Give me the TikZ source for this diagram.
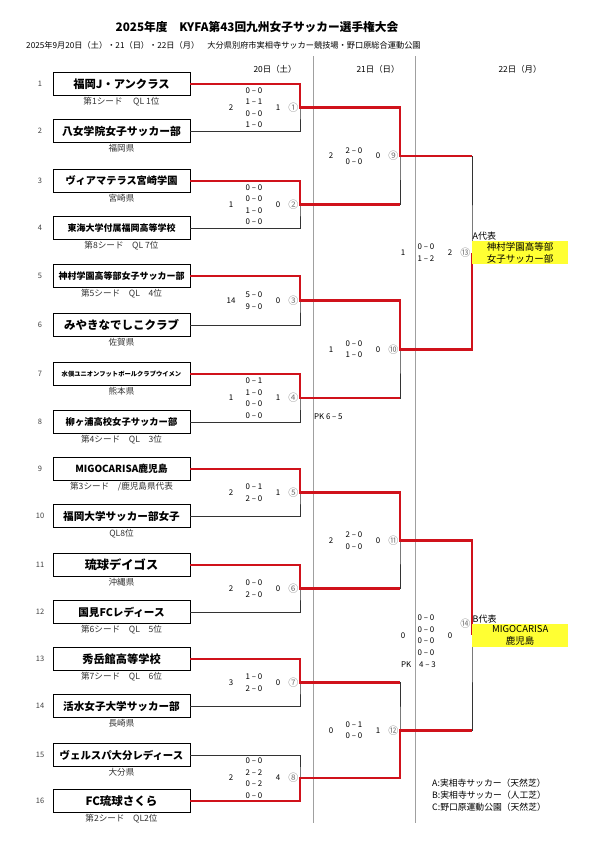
\documentclass[tikz,border=0pt]{standalone}
\usepackage{fontspec}
\setmainfont{Noto Sans CJK JP}
\usepackage{xcolor}
\usepackage{tikz}
\usetikzlibrary{positioning}
\definecolor{winred}{HTML}{D0121B}
\definecolor{repyellow}{HTML}{FFFF33}
\definecolor{daygray}{HTML}{A0A0A0}

\tikzset{
  teambox/.style={draw, line width=0.9pt, minimum width=137pt, minimum height=23pt, inner sep=0pt},
  sublbl/.style={font=\fontsize{8.6}{9}\selectfont, text=black!80, inner sep=0.5pt},
  seedno/.style={font=\fontsize{7.5}{8}\selectfont, text=black!75},
  lose/.style={line width=0.8pt, black!80},
  win/.style={line width=2.6pt, winred},
  score/.style={font=\fontsize{7.9}{11.5}\selectfont, align=center, inner sep=0pt},
  gno/.style={font=\fontsize{10}{10}\selectfont, text=black!55, inner sep=0pt},
  daylbl/.style={font=\fontsize{8.4}{9}\selectfont},
  daysep/.style={line width=0.7pt, daygray},
  rep/.style={fill=repyellow, minimum width=96pt, minimum height=23pt, align=center,
              inner sep=0pt, font=\fontsize{9.5}{12.3}\selectfont}
}

\begin{document}
\begin{tikzpicture}[x=1pt, y=-1pt]
  \useasboundingbox (0,0) rectangle (595,841);

  % heading
  \node[font=\bfseries\fontsize{11.7}{12}\selectfont] (title) at (257,27)
    {2025年度　KYFA第43回九州女子サッカー選手権大会};
  \node[font=\fontsize{8.2}{9}\selectfont, anchor=west, inner sep=0pt] (dates) at (26,45)
    {2025年9月20日（土）・21（日）・22日（月）　大分県別府市実相寺サッカー競技場・野口原総合運動公園};

  % days
  \node[daylbl] (day1) at (275,69) {20日（土）};
  \node[daylbl] (day2) at (378,69) {21日（日）};
  \node[daylbl] (day3) at (520,69) {22日（月）};
  \draw[daysep] (313,56) -- (313,823);
  \draw[daysep] (415,56) -- (415,823);

  % teams
  \foreach \i/\yy/\nm/\sb/\fs in {
      1/84/福岡J・アンクラス/第1シード　 QL 1位/11.3,
      2/131/八女学院女子サッカー部/福岡県/10.8,
      3/181/ヴィアマテラス宮崎学園/宮崎県/10.2,
      4/228/東海大学付属福岡高等学校/第8シード　QL 7位/9,
      5/276/神村学園高等部女子サッカー部/第5シード　QL　4位/9,
      6/325/みやきなでしこクラブ/佐賀県/11.5,
      7/374/水俣ユニオンフットボールクラブウイメン/熊本県/6.3,
      8/422/柳ヶ浦高校女子サッカー部/第4シード　QL　3位/9.3,
      9/469/MIGOCARISA鹿児島/{第3シード　/鹿児島県代表}/9.8,
      10/516/福岡大学サッカー部女子/QL8位/10.6,
      11/565/琉球デイゴス/沖縄県/12.2,
      12/612/国見FCレディース/第6シード　QL　5位/10.6,
      13/659/秀岳館高等学校/第7シード　QL　6位/11.2,
      14/706/活水女子大学サッカー部/長崎県/10.6,
      15/755/ヴェルスパ大分レディース/大分県/10.4,
      16/801/FC琉球さくら/第2シード　QL2位/11.5}{
    \node[teambox, font=\bfseries\fontsize{\fs}{\fs}\selectfont] (t\i) at (121.5,\yy) {\nm};
    \node[sublbl, below=1pt of t\i] (s\i) {\sb};
    \node[seedno] (n\i) at (40,\yy) {\i};
  }

  % match points
  \coordinate (m1) at (300,107.5);
  \coordinate (m2) at (300,204.5);
  \coordinate (m3) at (300,300.5);
  \coordinate (m4) at (300,398);
  \coordinate (m5) at (300,492.5);
  \coordinate (m6) at (300,588.5);
  \coordinate (m7) at (300,682.5);
  \coordinate (m8) at (300,778);
  \coordinate (m9) at (400,156);
  \coordinate (m10) at (400,349.3);
  \coordinate (m11) at (400,540.5);
  \coordinate (m12) at (400,730.3);
  \coordinate (m13) at (472,252.6);
  \coordinate (m14) at (472,635.4);

  % bracket
  \foreach \m/\a/\b in {1/1/2, 2/3/4, 3/5/6, 4/7/8, 5/9/10, 6/11/12, 7/13/14, 8/15/16}
    \draw[lose] (t\a.east) -| (m\m) |- (t\b.east);
  \foreach \m/\a/\b in {9/1/2, 10/3/4, 11/5/6, 12/7/8, 13/9/10, 14/11/12}
    \draw[lose] (m\a) -| (m\m) |- (m\b);

  % winners
  \draw[win] (t1.east) -| (m1) -| (m9) -- (m9 -| m13);
  \draw[win] (t3.east) -| (m2) -- (m2 -| m9);
  \draw[win] (t5.east) -| (m3) -| (m10) -| (m13);
  \draw[win] (t7.east) -| (m4) -- (m4 -| m10);
  \draw[win] (t9.east) -| (m5) -| (m11) -| (m14);
  \draw[win] (t11.east) -| (m6) -- (m6 -| m11);
  \draw[win] (t13.east) -| (m7) -- (m7 -| m12);
  \draw[win] (t16.east) -| (m8) -| (m12) -- (m12 -| m14);

  % scores
  \foreach \m/\l/\sc/\r/\c/\cy in {
      1/2/{0 – 0\\1 – 1\\0 – 0\\1 – 0}/1/①/0,
      2/1/{0 – 0\\0 – 0\\1 – 0\\0 – 0}/0/②/0,
      3/14/{5 – 0\\9 – 0}/0/③/0,
      4/1/{0 – 1\\1 – 0\\0 – 0\\0 – 0}/1/④/0,
      5/2/{0 – 1\\2 – 0}/1/⑤/0,
      6/2/{0 – 0\\2 – 0}/0/⑥/0,
      7/3/{1 – 0\\2 – 0}/0/⑦/0,
      8/2/{0 – 0\\2 – 2\\0 – 2\\0 – 0}/4/⑧/0,
      9/2/{2 – 0\\0 – 0}/0/⑨/0,
      10/1/{0 – 0\\1 – 0}/0/⑩/0,
      11/2/{2 – 0\\0 – 0}/0/⑪/0,
      12/0/{0 – 1\\0 – 0}/1/⑫/0,
      13/1/{0 – 0\\1 – 2}/2/⑬/0,
      14/0/{0 – 0\\0 – 0\\0 – 0\\0 – 0}/0/⑭/12}{
    \node[score] (l\m) at ([xshift=-69pt]m\m) {\l};
    \node[score] (c\m) at ([xshift=-46pt]m\m) {\sc};
    \node[score] (r\m) at ([xshift=-22pt]m\m) {\r};
    \node[gno, anchor=east] (g\m) at ([xshift=-1.5pt, yshift=\cy pt]m\m) {\c};
  }
  \node[score, anchor=west] (pk4) at (314,417) {PK 6 – 5};
  \node[score, anchor=west] (pk14) at (401,665) {PK　4 – 3};

  % representatives
  \node[rep, anchor=west] (repA) at (m13) {神村学園高等部\\女子サッカー部};
  \node[rep, anchor=west] (repB) at (m14) {MIGOCARISA\\鹿児島};
  \node[anchor=south west, inner sep=0.5pt, font=\fontsize{9}{9}\selectfont] (repAl) at (repA.north west) {A代表};
  \node[anchor=south west, inner sep=0.5pt, font=\fontsize{9}{9}\selectfont] (repBl) at (repB.north west) {B代表};

  % venues
  \node[anchor=west, align=left, inner sep=0pt, font=\fontsize{8.8}{12}\selectfont] (venues) at (432,795)
    {A:実相寺サッカー（天然芝）\\B:実相寺サッカー（人工芝）\\C:野口原運動公園（天然芝）};
\end{tikzpicture}
\end{document}
